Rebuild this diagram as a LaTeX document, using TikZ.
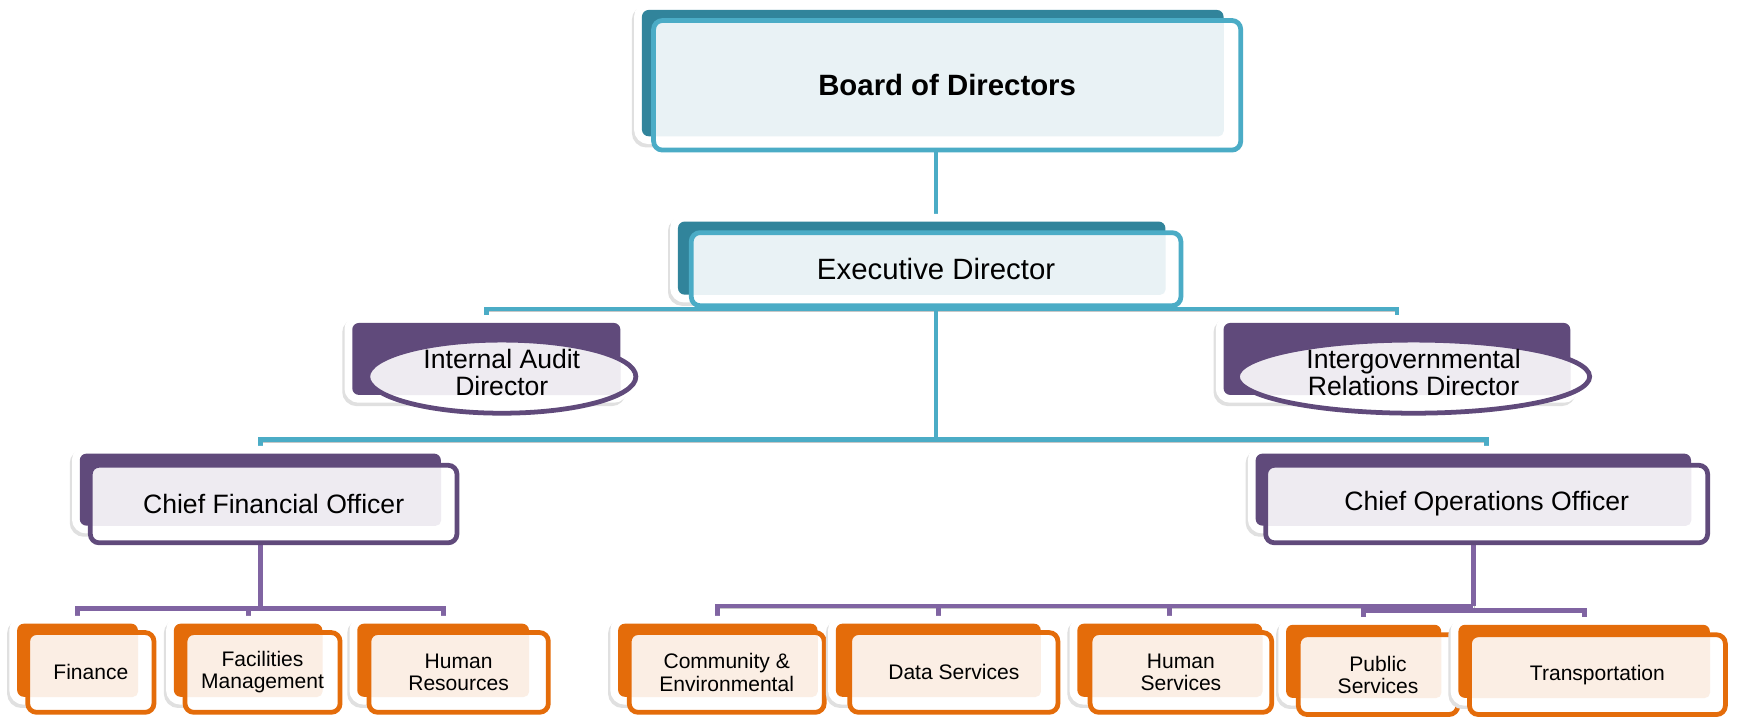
\documentclass[tikz,border=0pt]{standalone}
\usepackage{fontspec}
\setmainfont{Liberation Sans}
\usepackage{tikz}
\usetikzlibrary{positioning,shapes.geometric,backgrounds}

\definecolor{tealdark}{HTML}{31849B}
\definecolor{tealline}{HTML}{4BACC6}
\definecolor{tealpale}{HTML}{E9F2F5}
\definecolor{purpledark}{HTML}{604A7B}
\definecolor{purpleline}{HTML}{604A7B}
\definecolor{purplepale}{HTML}{EEEBF1}
\definecolor{purplelink}{HTML}{8064A2}
\definecolor{orangedark}{HTML}{E46C0A}
\definecolor{orangeline}{HTML}{E46C0A}
\definecolor{orangepale}{HTML}{FBEEE4}

\begin{document}
\begin{tikzpicture}[
  x=1pt, y=-1pt,
  every node/.style={inner sep=0pt, align=center},
  back/.style={fill=#1dark, rounded corners=6pt,
    preaction={draw=black!12, fill=black!12, line width=14pt, transform canvas={shift={(-2,3)}}},
    preaction={draw=white, fill=white, line width=14pt}},
  front/.style 2 args={draw=#1line, fill=white, line width=4.3pt, rounded corners=8pt,
    path picture={\fill[#1pale, rounded corners=5pt] (#2.north west) rectangle (#2.south east);}},
  oval/.style 2 args={front={#1}{#2}, ellipse},
  link/.style={draw=#1, line width=4.3pt,
    preaction={draw=black!22, transform canvas={shift={(1,2)}}}},
  big/.style={font=\fontsize{26.5}{30}\selectfont\bfseries},
  top/.style={font=\fontsize{26.5}{30}\selectfont},
  mid/.style={font=\fontsize{24}{24}\selectfont},
  small/.style={font=\fontsize{19}{20}\selectfont}
]
  \useasboundingbox (0,0) rectangle (1568,648);

  % board and executive
  \node[back=teal, minimum width=525, minimum height=114] (bodback) at (842,66) {};
  \node[front={teal}{bodback}, minimum width=530, minimum height=117, big] (bod) at (855,77) {Board of Directors};
  \node[back=teal, minimum width=440, minimum height=66] (exeback) at (832,233) {};
  \node[front={teal}{exeback}, minimum width=442, minimum height=66, top] (exe) at (845,243) {Executive Director};

  % directors next to the executive
  \node[back=purple, minimum width=242, minimum height=65] (iadback) at (439,324) {};
  \node[oval={purple}{iadback}, minimum width=242, minimum height=66,
        label={[mid, yshift=4]center:{Internal Audit\\Director}}] (iad) at (453,340) {};
  \node[back=purple, minimum width=313, minimum height=65] (igrback) at (1261,324) {};
  \node[oval={purple}{igrback}, minimum width=318, minimum height=66,
        label={[mid, yshift=4]center:{Intergovernmental\\Relations Director}}] (igr) at (1276,340) {};

  % chief officers
  \node[back=purple, minimum width=326, minimum height=65] (cfoback) at (235,442) {};
  \node[front={purple}{cfoback}, minimum width=331, minimum height=70, mid] (cfo) at (247,455) {Chief Financial Officer};
  \node[back=purple, minimum width=393, minimum height=65] (cooback) at (1330,442) {};
  \node[front={purple}{cooback}, minimum width=399, minimum height=70, mid] (coo) at (1342,455) {Chief Operations Officer};

  % departments
  \node[back=orange, minimum width=109, minimum height=66] (finback) at (70,596) {};
  \node[front={orange}{finback}, minimum width=114, minimum height=72, small] (fin) at (82,607) {Finance};
  \node[back=orange, minimum width=134, minimum height=66] (facback) at (224,596) {};
  \node[front={orange}{facback}, minimum width=140, minimum height=72, small] (fac) at (237,607) {Facilities\\Management};
  \node[back=orange, minimum width=155, minimum height=66] (hrsback) at (400,596) {};
  \node[front={orange}{hrsback}, minimum width=162, minimum height=72, small] (hrs) at (414,607) {Human\\Resources};
  \node[back=orange, minimum width=180, minimum height=66] (comback) at (648,596) {};
  \node[front={orange}{comback}, minimum width=176, minimum height=72, small] (com) at (656,607) {Community \&\\Environmental};
  \node[back=orange, minimum width=185, minimum height=66] (datback) at (847,596) {};
  \node[front={orange}{datback}, minimum width=188, minimum height=72, small] (dat) at (861,607) {Data Services};
  \node[back=orange, minimum width=167, minimum height=66] (husback) at (1056,596) {};
  \node[front={orange}{husback}, minimum width=164, minimum height=72, small] (hus) at (1066,607) {Human\\Services};
  \node[back=orange, minimum width=140, minimum height=66] (pubback) at (1231,597) {};
  \node[front={orange}{pubback}, minimum width=144, minimum height=72, small] (pub) at (1244,609) {Public\\Services};
  \node[back=orange, minimum width=227, minimum height=66] (traback) at (1430,597) {};
  \node[front={orange}{traback}, minimum width=231, minimum height=72, small] (tra) at (1442,609) {Transportation};

  \coordinate (bus1) at (845,279);
  \coordinate (bus2) at (845,397);
  \coordinate (bus3) at (235,549);
  \coordinate (bus4) at (1330,547);
  \coordinate (bus5) at (1330,551);

  \begin{scope}[on background layer]
    \fill[white] (0,0) rectangle (1568,648);
    \draw[link=tealline] (exe.north |- bod.south) -- (exe.north);
    \draw[link=tealline] (iadback.north) |- (bus1) -| (igrback.north);
    \draw[link=tealline] (exe.south) -- (bus2);
    \draw[link=tealline] (cfoback.north) |- (bus2) -| (coo.north);
    \draw[link=purplelink] (cfoback.south) -- (bus3);
    \draw[link=purplelink] (finback.north) |- (bus3) -| (hrsback.north);
    \draw[link=purplelink] (facback.north) -- (facback.north |- bus3);
    \draw[link=purplelink] (cooback.south) -- (bus4);
    \draw[link=purplelink] (comback.north) |- (bus4);
    \draw[link=purplelink] (datback.north) -- (datback.north |- bus4);
    \draw[link=purplelink] (husback.north) -- (husback.north |- bus4);
    \draw[link=purplelink] (pubback.north) |- (bus5) -| (traback.north);
  \end{scope}
\end{tikzpicture}
\end{document}
